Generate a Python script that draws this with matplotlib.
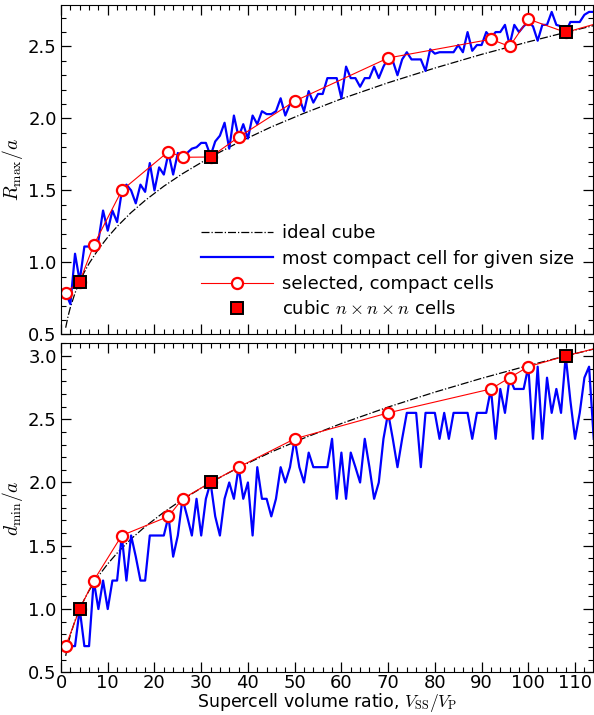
import numpy as np
import matplotlib
matplotlib.use('Agg')
import matplotlib.pyplot as plt
from matplotlib.ticker import MultipleLocator

plt.rcParams['font.family'] = ['DejaVu Sans']
plt.rcParams['mathtext.fontset'] = 'cm'
plt.rcParams['font.size'] = 13

# supercell sizes for the "most compact" search
sizes = list(range(1, 115))

# R_max / a of the most compact cell for each size
rmax_compact = [0.79, 0.71, 1.06, 0.87, 1.11, 1.11, 1.12, 1.15, 1.36, 1.22,
                1.36, 1.28, 1.49, 1.54, 1.50, 1.41, 1.54, 1.49, 1.69, 1.50,
                1.66, 1.61, 1.76, 1.61, 1.76, 1.73, 1.76, 1.79, 1.80, 1.83,
                1.83, 1.74, 1.84, 1.88, 1.97, 1.79, 2.02, 1.87, 1.96, 1.86,
                2.02, 1.96, 2.05, 2.03, 2.03, 2.05, 2.14, 2.02, 2.10, 2.12,
                2.14, 2.05, 2.19, 2.11, 2.17, 2.17, 2.28, 2.28, 2.28, 2.14,
                2.36, 2.28, 2.28, 2.22, 2.28, 2.28, 2.36, 2.28, 2.36, 2.42,
                2.40, 2.30, 2.41, 2.46, 2.41, 2.41, 2.41, 2.33, 2.48, 2.45,
                2.46, 2.46, 2.46, 2.46, 2.51, 2.46, 2.60, 2.47, 2.51, 2.51,
                2.60, 2.56, 2.60, 2.60, 2.65, 2.51, 2.65, 2.60, 2.64, 2.67,
                2.64, 2.54, 2.65, 2.65, 2.74, 2.65, 2.64, 2.60, 2.67, 2.67,
                2.67, 2.72, 2.74, 2.74]

# d_min / a of the most compact cell for each size
dmin_compact = [0.707, 0.707, 0.707, 1.0, 0.707, 0.707, 1.225, 1.0, 1.225, 1.0,
                1.225, 1.225, 1.581, 1.225, 1.581, 1.414, 1.225, 1.225, 1.581, 1.581,
                1.581, 1.581, 1.732, 1.414, 1.581, 1.871, 1.732, 1.581, 1.871, 1.581,
                1.871, 2.0, 1.732, 1.581, 1.871, 2.0, 1.871, 2.121, 1.871, 2.0,
                1.581, 2.121, 1.871, 1.871, 1.732, 1.871, 2.121, 2.0, 2.121, 2.345,
                2.121, 2.0, 2.236, 2.121, 2.121, 2.121, 2.121, 2.345, 1.871, 2.236,
                1.871, 2.236, 2.121, 2.0, 2.345, 2.121, 1.871, 2.0, 2.345, 2.55,
                2.345, 2.121, 2.345, 2.55, 2.55, 2.55, 2.121, 2.55, 2.55, 2.55,
                2.345, 2.55, 2.345, 2.55, 2.55, 2.55, 2.55, 2.345, 2.55, 2.55,
                2.55, 2.739, 2.345, 2.739, 2.55, 2.828, 2.739, 2.739, 2.739, 2.915,
                2.345, 2.915, 2.345, 2.828, 2.55, 2.739, 2.55, 3.0, 2.646, 2.345,
                2.55, 2.828, 2.915, 2.345]

# ideal cube curve
ideal_v = [1, 1.5, 2, 3, 4, 5, 6, 8, 10, 12, 15, 18, 22, 26, 32, 38, 45, 52,
           60, 70, 80, 90, 100, 108, 114]
ideal_d = [0.630, 0.721, 0.794, 0.909, 1.000, 1.077, 1.145, 1.260, 1.357, 1.442,
           1.554, 1.651, 1.765, 1.866, 2.000, 2.118, 2.241, 2.351, 2.466, 2.596,
           2.714, 2.823, 2.924, 3.000, 3.054]
ideal_r = [0.546, 0.624, 0.687, 0.787, 0.866, 0.933, 0.992, 1.091, 1.175, 1.249,
           1.346, 1.430, 1.529, 1.616, 1.732, 1.834, 1.941, 2.036, 2.136, 2.248,
           2.350, 2.445, 2.532, 2.598, 2.645]

# selected compact cells (last one lies beyond the plotted range)
sel_v = [1, 4, 7, 13, 23, 26, 32, 38, 50, 70, 92, 96, 100, 108, 126]
sel_r = [0.79, 0.866, 1.12, 1.50, 1.77, 1.73, 1.732, 1.87, 2.12, 2.42,
         2.55, 2.50, 2.69, 2.598, 2.764]
sel_d = [0.707, 1.0, 1.225, 1.581, 1.732, 1.871, 2.0, 2.121, 2.345, 2.55,
         2.739, 2.828, 2.915, 3.0, 3.167]

# cubic n x n x n cells
cubic_v = [4, 32, 108]
cubic_r = [0.866, 1.732, 2.598]
cubic_d = [1.0, 2.0, 3.0]

fig = plt.figure(figsize=(5.94, 7.15), dpi=100)
ax1 = fig.add_axes([0.1027, 0.5324, 0.8953, 0.4610])
ax2 = fig.add_axes([0.1027, 0.0597, 0.8953, 0.4602])


def draw(ax, ideal_y, comp_y, sel_y, cub_y):
    ax.plot(ideal_v, ideal_y, color='black', linestyle='-.', linewidth=0.9,
            label='ideal cube')
    ax.plot(sizes, comp_y, color='#0000ff', linewidth=1.6,
            label='most compact cell for given size')
    ax.plot(sel_v, sel_y, color='red', linewidth=0.8, marker='o',
            markersize=8, markerfacecolor='white', markeredgecolor='red',
            markeredgewidth=1.6, label='selected, compact cells')
    ax.plot(cubic_v, cub_y, linestyle='none', marker='s', markersize=8,
            markerfacecolor='red', markeredgecolor='black',
            markeredgewidth=1.4, label=r'cubic $n\times n\times n$ cells',
            zorder=5)
    ax.set_xlim(0, 113.8)
    ax.xaxis.set_major_locator(MultipleLocator(10))
    ax.xaxis.set_minor_locator(MultipleLocator(2))
    ax.yaxis.set_major_locator(MultipleLocator(0.5))
    ax.yaxis.set_minor_locator(MultipleLocator(0.1))
    ax.tick_params(which='both', direction='in', top=True, right=True,
                   labelsize=13, pad=3)
    ax.tick_params(axis='x', pad=1)
    ax.tick_params(which='major', length=7, width=0.9)
    ax.tick_params(which='minor', length=3.5, width=0.8)


draw(ax1, ideal_r, rmax_compact, sel_r, cubic_r)
ax1.set_ylim(0.5, 2.79)
ax1.tick_params(labelbottom=False)
ax1.set_ylabel(r'$R_{\rm max}/a$', fontsize=14, labelpad=2)
ax1.legend(loc='lower right', frameon=False, numpoints=1, handlelength=4.0,
           fontsize=13, borderaxespad=0.5, labelspacing=0.4,
           handletextpad=0.5, bbox_to_anchor=(0.995, 0.0))

draw(ax2, ideal_d, dmin_compact, sel_d, cubic_d)
ax2.set_ylim(0.5, 3.1)
ax2.set_ylabel(r'$d_{\rm min}/a$', fontsize=14, labelpad=2)
ax2.set_xlabel(r'Supercell volume ratio, $V_{\rm SS}/V_{\rm P}$', fontsize=12.5,
               labelpad=-0.5)

fig.savefig('out.png', dpi=100)
